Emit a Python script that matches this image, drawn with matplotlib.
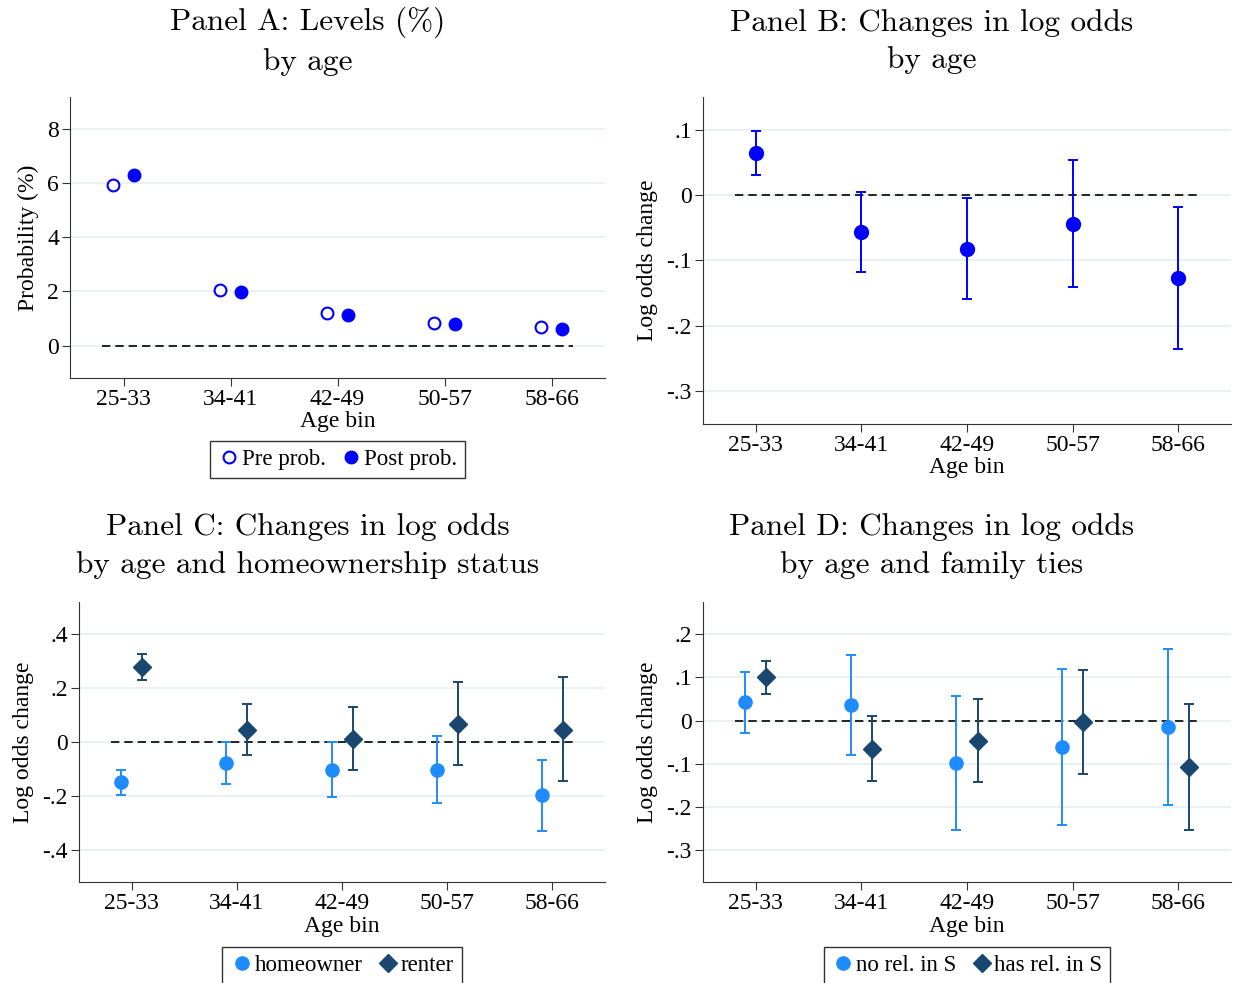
# Four-panel figure: age-bin probabilities and log odds changes.

import matplotlib.pyplot as plt
from matplotlib.lines import Line2D
import numpy as np

# Data
age_bins = ["25-33", "34-41", "42-49", "50-57", "58-66"]

# Panel A: levels (%)
pre_prob = [5.95, 2.07, 1.22, 0.83, 0.68]
post_prob = [6.32, 1.97, 1.13, 0.80, 0.60]

# Panel B: log odds change by age
b_est = [0.064, -0.057, -0.082, -0.044, -0.127]
b_lo = [0.031, -0.118, -0.159, -0.141, -0.236]
b_hi = [0.098, 0.004, -0.005, 0.054, -0.018]

# Panel C: homeowner vs renter
own_est = [-0.150, -0.077, -0.103, -0.103, -0.198]
own_lo = [-0.196, -0.156, -0.205, -0.226, -0.329]
own_hi = [-0.104, 0.002, 0.002, 0.024, -0.066]
rent_est = [0.278, 0.046, 0.012, 0.067, 0.046]
rent_lo = [0.230, -0.047, -0.104, -0.085, -0.146]
rent_hi = [0.328, 0.140, 0.129, 0.222, 0.240]

# Panel D: family ties
norel_est = [0.042, 0.035, -0.099, -0.062, -0.015]
norel_lo = [-0.028, -0.081, -0.254, -0.243, -0.197]
norel_hi = [0.112, 0.152, 0.056, 0.119, 0.167]
rel_est = [0.100, -0.066, -0.047, -0.003, -0.109]
rel_lo = [0.062, -0.141, -0.143, -0.123, -0.255]
rel_hi = [0.139, 0.011, 0.049, 0.117, 0.039]

BLUE = "#0000ff"
LIGHT = "#1e8cff"
NAVY = "#1a476f"
GRID = "#e6eff1"
TEXT_FONT = "Liberation Serif"
TITLE_FONT = "cmr10"
W, H = 1233, 983

plt.rcParams["font.family"] = TEXT_FONT
plt.rcParams["axes.unicode_minus"] = False

fig = plt.figure(figsize=(12.33, 9.83), dpi=100)
axA = fig.add_axes([0.0568, 0.6155, 0.4339, 0.2859])
axB = fig.add_axes([0.5702, 0.5687, 0.4282, 0.3327])
axC = fig.add_axes([0.0641, 0.1027, 0.4266, 0.2848])
axD = fig.add_axes([0.5702, 0.1027, 0.4282, 0.2848])

x = np.arange(len(age_bins))


def style_axis(ax, yticks, yticklabels, ylim, ylabel):
    ax.set_xlim(-0.5, 4.5)
    ax.set_ylim(*ylim)
    ax.set_xticks(x)
    ax.set_xticklabels(age_bins, fontsize=17)
    ax.set_yticks(yticks)
    ax.set_yticklabels(yticklabels, fontsize=17)
    ax.set_xlabel("Age bin", fontsize=17, labelpad=1)
    ax.set_ylabel(ylabel, fontsize=17, labelpad=6)
    for t in yticks:
        ax.axhline(t, color=GRID, lw=1.2, zorder=0)
    ax.spines["top"].set_visible(False)
    ax.spines["right"].set_visible(False)
    ax.spines["left"].set_color("#333333")
    ax.spines["bottom"].set_color("#333333")
    ax.tick_params(axis="both", length=6, color="#333333", pad=2)
    ax.plot([-0.2, 4.2], [0, 0], color="black", lw=1.2, ls=(0, (5, 3)), zorder=1)


def errbars(ax, xs, est, lo, hi, color, marker, ms):
    est = np.array(est)
    yerr = [est - np.array(lo), np.array(hi) - est]
    ax.errorbar(xs, est, yerr=yerr, fmt=marker, color=color, ecolor=color,
                ms=ms, elinewidth=1.4, capsize=3.5, capthick=1.4, zorder=3)


def panel_title(text, xc, yc):
    fig.text(xc / W, 1 - yc / H, text, ha="center", va="center",
             fontsize=22.5, family=TITLE_FONT, linespacing=1.45)


def add_legend(ax, handles, offset):
    ax.legend(handles=handles, loc="upper center", bbox_to_anchor=(0.5, offset), ncol=2,
              frameon=True, fancybox=False, edgecolor="black", fontsize=16.5,
              handletextpad=0.05, columnspacing=0.6, borderpad=0.35, borderaxespad=0.4,
              handlelength=1.0)


# Panel A
style_axis(axA, [0, 2, 4, 6, 8], ["0", "2", "4", "6", "8"], (-1.2, 9.2), "Probability (%)")
axA.plot(x - 0.1, pre_prob, "o", mfc="white", mec=BLUE, mew=1.5, ms=8.5, zorder=3)
axA.plot(x + 0.1, post_prob, "o", color=BLUE, ms=9, zorder=3)
add_legend(axA, [Line2D([], [], marker="o", ls="", mfc="white", mec=BLUE, mew=1.5, ms=8.5, label="Pre prob."),
                 Line2D([], [], marker="o", ls="", color=BLUE, ms=9, label="Post prob.")], -0.19)
panel_title("Panel A: Levels (%)\nby age", 308, 41.5)

# Panel B
style_axis(axB, [0.1, 0, -0.1, -0.2, -0.3], [".1", "0", "-.1", "-.2", "-.3"],
           (-0.35, 0.15), "Log odds change")
errbars(axB, x, b_est, b_lo, b_hi, BLUE, "o", 10)
panel_title("Panel B: Changes in log odds\nby age", 932, 41.5)

# Panel C
style_axis(axC, [0.4, 0.2, 0, -0.2, -0.4], [".4", ".2", "0", "-.2", "-.4"],
           (-0.52, 0.52), "Log odds change")
errbars(axC, x - 0.1, own_est, own_lo, own_hi, LIGHT, "o", 9.5)
errbars(axC, x + 0.1, rent_est, rent_lo, rent_hi, NAVY, "D", 9)
add_legend(axC, [Line2D([], [], marker="o", ls="", color=LIGHT, ms=9.5, label="homeowner"),
                 Line2D([], [], marker="D", ls="", color=NAVY, ms=9, label="renter")], -0.2)
panel_title("Panel C: Changes in log odds\nby age and homeownership status", 308, 546)

# Panel D
style_axis(axD, [0.2, 0.1, 0, -0.1, -0.2, -0.3], [".2", ".1", "0", "-.1", "-.2", "-.3"],
           (-0.375, 0.275), "Log odds change")
errbars(axD, x - 0.1, norel_est, norel_lo, norel_hi, LIGHT, "o", 9.5)
errbars(axD, x + 0.1, rel_est, rel_lo, rel_hi, NAVY, "D", 9)
add_legend(axD, [Line2D([], [], marker="o", ls="", color=LIGHT, ms=9.5, label="no rel. in S"),
                 Line2D([], [], marker="D", ls="", color=NAVY, ms=9, label="has rel. in S")], -0.2)
panel_title("Panel D: Changes in log odds\nby age and family ties", 932, 546)

fig.savefig("out.png", dpi=100, facecolor="white")
